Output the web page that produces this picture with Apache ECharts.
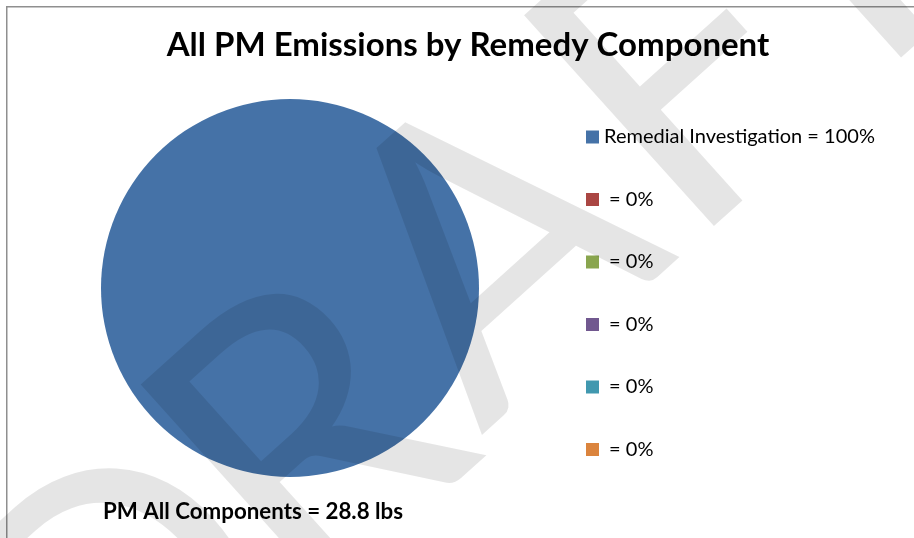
<!DOCTYPE html>
<html>
<head>
<meta charset="utf-8">
<style>
  html, body { margin: 0; padding: 0; background: #ffffff; }
  #chart { width: 914px; height: 538px; }
</style>
<script src="https://cdn.jsdelivr.net/npm/echarts@6/dist/echarts.min.js"></script>
</head>
<body>
<div id="chart"></div>
<script>
// ---- Data ----
var categories = ['Remedial Investigation', '', '', '', '', ''];
var values = [28.8, 0, 0, 0, 0, 0];
var colors = ['#4572A7', '#AA4643', '#89A54E', '#71588F', '#4198AF', '#DB843D'];
var titleText = 'All PM Emissions by Remedy Component';
var totalLabel = 'PM All Components = 28.8 lbs';
var watermarkLetters = ['D', 'R', 'A', 'F', 'T'];

var total = values.reduce(function (a, b) { return a + b; }, 0);
var keys = categories.map(function (c, i) { return 'k' + i; });
var labelByKey = {};
keys.forEach(function (k, i) {
  labelByKey[k] = categories[i] + ' = ' + Math.round(values[i] / total * 100) + '%';
});

var chart = echarts.init(document.getElementById('chart'), null, { renderer: 'canvas' });

// watermark letter layout in rotated frame
var wmPos = [[-320, 543], [-65, 536], [200, 518], [455, 518], [650, 518]];
var wmChildren = watermarkLetters.map(function (L, i) {
  return {
    type: 'text',
    z: 100,
    silent: true,
    style: {
      text: L,
      x: wmPos[i][0],
      y: wmPos[i][1],
      font: 'normal 396px Lato, "Noto Sans", sans-serif',
      fill: 'rgba(0,0,0,0.1)',
      align: 'center',
      verticalAlign: 'middle'
    }
  };
});

var option = {
  animation: false,
  color: colors,
  title: {
    text: titleText,
    left: 463,
    textAlign: 'center',
    top: 24,
    textStyle: {
      fontFamily: 'Lato, "Noto Sans", sans-serif',
      fontWeight: 'bold',
      fontSize: 33,
      color: '#000'
    }
  },
  legend: {
    orient: 'vertical',
    left: 586,
    top: 127,
    padding: 0,
    itemWidth: 13,
    itemHeight: 13,
    itemGap: 42.5,
    icon: 'rect',
    data: keys,
    selectedMode: false,
    formatter: function (name) { return labelByKey[name]; },
    textStyle: {
      fontFamily: 'Lato, "Noto Sans", sans-serif',
      fontSize: 20,
      lineHeight: 20,
      color: '#000'
    }
  },
  series: [{
    type: 'pie',
    center: [290, 288],
    radius: 189,
    startAngle: 90,
    silent: true,
    z: 2,
    label: { show: false },
    labelLine: { show: false },
    itemStyle: { borderWidth: 0 },
    data: keys.map(function (k, i) {
      return { name: k, value: values[i] };
    })
  }],
  graphic: {
    z: 100,
    elements: [
      {
        type: 'rect',
        shape: { x: 6.75, y: 6.75, width: 1200, height: 1200 },
        style: { fill: 'none', stroke: '#8f8f8f', lineWidth: 1.5 },
        z: 0,
        silent: true
      },
      {
        type: 'text',
        left: 103,
        top: 501,
        style: {
          text: totalLabel,
          font: 'bold 22.3px Lato, "Noto Sans", sans-serif',
          fill: '#000'
        },
        z: 10
      },
      {
        type: 'group',
        x: 0,
        y: 0,
        rotation: 42 * Math.PI / 180,
        silent: true,
        z: 100,
        children: wmChildren
      }
    ]
  }
};

chart.setOption(option);
</script>
</body>
</html>
